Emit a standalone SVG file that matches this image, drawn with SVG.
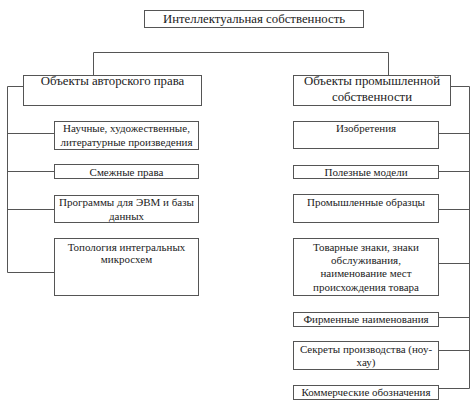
<svg xmlns="http://www.w3.org/2000/svg" width="474" height="404" viewBox="0 0 474 404">
<style>
rect{fill:#fff;stroke:#555;stroke-width:1}
.c path{fill:none;stroke:#555;stroke-width:1}
text{fill:#222;text-anchor:middle;font-family:"Liberation Serif","DejaVu Serif",serif}
.h{font-size:12.8px}
.s{font-size:11px}
</style>
<rect x="0" y="0" width="474" height="404" style="fill:#fff;stroke:none"/>
<g class="c" id="connectors">
<path d="M93.5,75 V52.5 H388.5 V75"/>
<path d="M23,86.5 H7.5 V272.5 H54 M7.5,133.5 H54 M7.5,171.5 H54 M7.5,209.5 H54"/>
<path d="M451,86.5 H469.5 V388.5 H439 M469.5,133.5 H439 M469.5,171.5 H439 M469.5,209.5 H439 M469.5,263.5 H439 M469.5,317.5 H439 M469.5,350.5 H439"/>
</g>
<g id="root"><rect x="144.5" y="10.5" width="219" height="17"/><text class="h" x="254" y="22.5">Интеллектуальная собственность</text></g>
<g id="copyright"><rect x="23.5" y="75.5" width="178" height="30"/><text class="h" x="112.5" y="84.5">Объекты авторского права</text></g>
<g id="industrial"><rect x="293.5" y="75.5" width="157" height="30"/><text class="h" x="372" y="84.5">Объекты промышленной</text><text class="h" x="372" y="101">собственности</text></g>
<g id="l1"><rect x="54.5" y="121.5" width="144" height="28"/><text class="s" x="126.5" y="131.5">Научные, художественные,</text><text class="s" x="126.5" y="145.5">литературные произведения</text></g>
<g id="l2"><rect x="54.5" y="164.5" width="144" height="14"/><text class="s" x="126.5" y="175.5">Смежные права</text></g>
<g id="l3"><rect x="54.5" y="195.5" width="144" height="27"/><text class="s" x="126.5" y="205.5">Программы для ЭВМ и базы</text><text class="s" x="126.5" y="219.5">данных</text></g>
<g id="l4"><rect x="54.5" y="238.5" width="144" height="57"/><text class="s" x="126.5" y="250.5">Топология интегральных</text><text class="s" x="126.5" y="263">микросхем</text></g>
<g id="r1"><rect x="293.5" y="121.5" width="145" height="27"/><text class="s" x="366" y="131.5">Изобретения</text></g>
<g id="r2"><rect x="293.5" y="165.5" width="145" height="13"/><text class="s" x="366" y="175.5">Полезные модели</text></g>
<g id="r3"><rect x="293.5" y="194.5" width="145" height="28"/><text class="s" x="366" y="205.5">Промышленные образцы</text></g>
<g id="r4"><rect x="293.5" y="238.5" width="145" height="57"/><text class="s" x="366" y="250.5">Товарные знаки, знаки</text><text class="s" x="366" y="263.5">обслуживания,</text><text class="s" x="366" y="277">наименование мест</text><text class="s" x="366" y="291">происхождения товара</text></g>
<g id="r5"><rect x="293.5" y="312.5" width="145" height="14"/><text class="s" x="366" y="322.5">Фирменные наименования</text></g>
<g id="r6"><rect x="293.5" y="341.5" width="145" height="28"/><text class="s" x="366" y="352.5">Секреты производства (ноу-</text><text class="s" x="366" y="365.5">хау)</text></g>
<g id="r7"><rect x="293.5" y="385.5" width="145" height="14"/><text class="s" x="366" y="396">Коммерческие обозначения</text></g>
</svg>
